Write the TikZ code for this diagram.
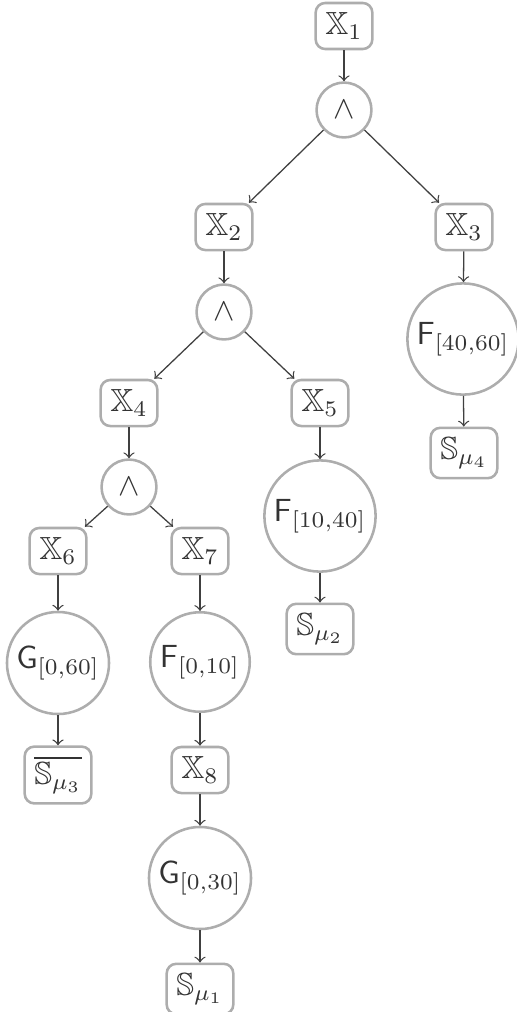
\documentclass[tikz,border=0pt]{standalone}
\usepackage{amssymb}
\definecolor{bord}{gray}{0.68}
\definecolor{txt}{gray}{0.2}
\definecolor{arr}{gray}{0.25}
\begin{document}
\begin{tikzpicture}[x=0.3125pt,y=-0.3125pt,
  box/.style={draw=bord,line width=0.8pt,rounded corners=3pt,text=txt,inner sep=3pt},
  op/.style={circle,draw=bord,line width=0.8pt,text=txt,inner sep=3pt,minimum size=17pt},
  tmp/.style={circle,draw=bord,line width=0.8pt,text=txt,inner sep=1.5pt},
  conn/.style={->,draw=arr,line width=0.4pt}]
\useasboundingbox (0,0) rectangle (516,1012);
\node[box] (x1) at (344,26) {$\mathbb{X}_1$};
\node[op] (a1) at (344,110) {$\wedge$};
\node[box] (x2) at (224,227) {$\mathbb{X}_2$};
\node[box] (x3) at (464,227) {$\mathbb{X}_3$};
\node[op] (a2) at (224,312) {$\wedge$};
\node[tmp] (f4060) at (463,339) {$\mathsf{F}_{[40,60]}$};
\node[box] (s4) at (464,453) {$\mathbb{S}_{\mu_4}$};
\node[box] (x4) at (129,403) {$\mathbb{X}_4$};
\node[box] (x5) at (320,403) {$\mathbb{X}_5$};
\node[op] (a3) at (129,487) {$\wedge$};
\node[tmp] (f1040) at (320,516) {$\mathsf{F}_{[10,40]}$};
\node[box] (s2) at (320,629) {$\mathbb{S}_{\mu_2}$};
\node[box] (x6) at (58,551) {$\mathbb{X}_6$};
\node[box] (x7) at (200,551) {$\mathbb{X}_7$};
\node[tmp] (g060) at (58,663) {$\mathsf{G}_{[0,60]}$};
\node[box] (s3) at (58,775) {$\overline{\mathbb{S}_{\mu_3}}$};
\node[tmp] (f010) at (200,662) {$\mathsf{F}_{[0,10]}$};
\node[box] (x8) at (200,770) {$\mathbb{X}_8$};
\node[tmp] (g030) at (200,878) {$\mathsf{G}_{[0,30]}$};
\node[box] (s1) at (200,989) {$\mathbb{S}_{\mu_1}$};
\draw[conn] (x1) -- (a1);
\draw[conn] (a1) -- (x2);
\draw[conn] (a1) -- (x3);
\draw[conn] (x2) -- (a2);
\draw[conn] (x3) -- (f4060);
\draw[conn] (f4060) -- (s4);
\draw[conn] (a2) -- (x4);
\draw[conn] (a2) -- (x5);
\draw[conn] (x4) -- (a3);
\draw[conn] (x5) -- (f1040);
\draw[conn] (f1040) -- (s2);
\draw[conn] (a3) -- (x6);
\draw[conn] (a3) -- (x7);
\draw[conn] (x6) -- (g060);
\draw[conn] (g060) -- (s3);
\draw[conn] (x7) -- (f010);
\draw[conn] (f010) -- (x8);
\draw[conn] (x8) -- (g030);
\draw[conn] (g030) -- (s1);
\end{tikzpicture}
\end{document}
